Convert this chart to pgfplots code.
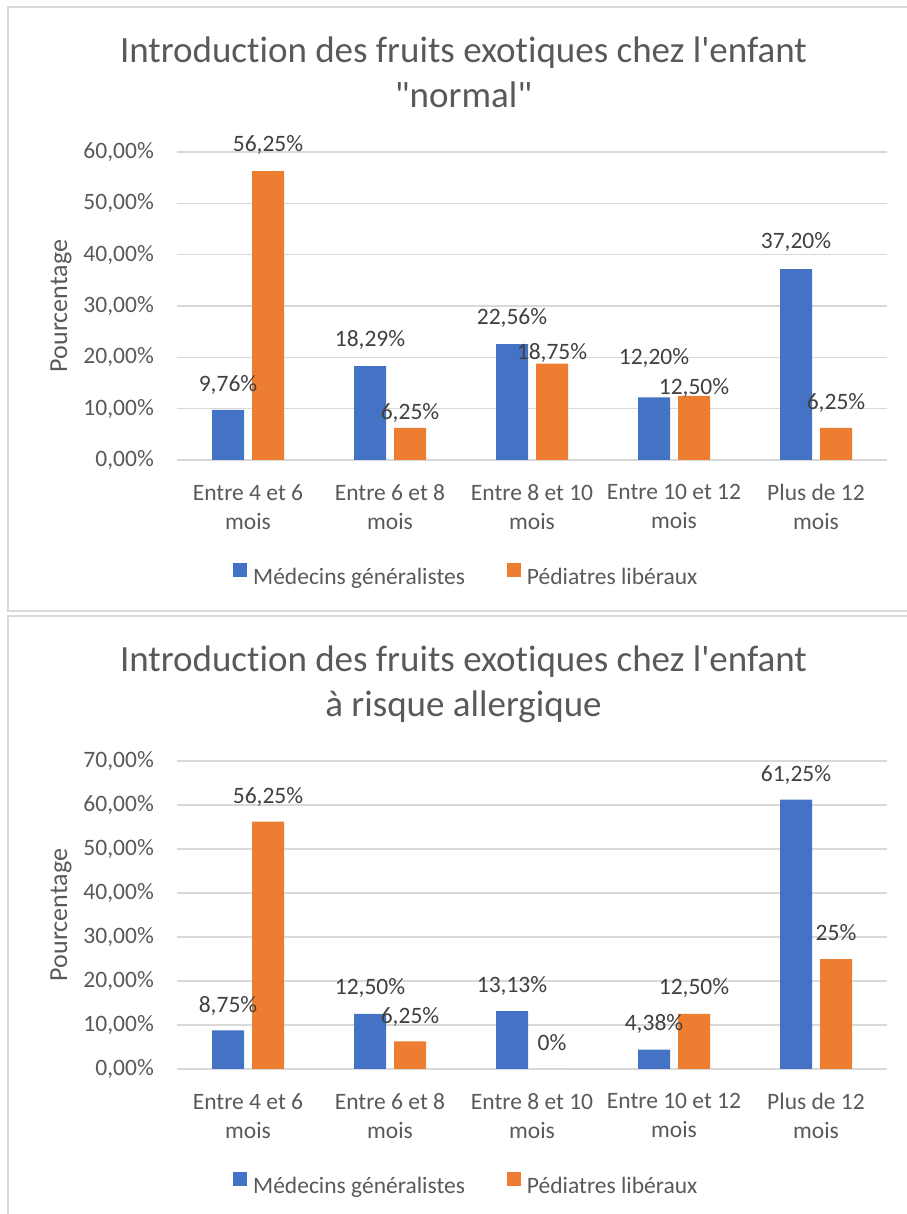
\documentclass[border=0pt]{standalone}
\usepackage{fontspec}
\usepackage{pgfplots}
\usepackage{pgfplotstable}
\pgfplotsset{compat=1.18}
\setmainfont{Carlito}
\newfontfamily\calibri{Carlito}[Ligatures=CommonOff]

\definecolor{mblue}{HTML}{4472C4}
\definecolor{morange}{HTML}{ED7D31}
\definecolor{gridgray}{HTML}{D9D9D9}
\definecolor{txtgray}{HTML}{595959}
\definecolor{labgray}{HTML}{404040}

\newcommand\lab{\calibri\fontsize{23.5}{29}\selectfont}
\newcommand\ttl{\calibri\fontsize{37}{45}\selectfont}

% x, value, label, label offset (centre above bar top)
\pgfplotstableread{
x y lab off
0 9.76 9,76 25
1 18.29 18,29 26
2 22.56 22,56 26
3 12.20 12,20 39
4 37.20 37,20 27
}\topmed
\pgfplotstableread{
x y lab off
0 56.25 56,25 26
1 6.25 6,25 15
2 18.75 18,75 11
3 12.50 12,50 8
4 6.25 6,25 25
}\topped
\pgfplotstableread{
x y lab off
0 8.75 8,75 25
1 12.50 12,50 26
2 13.13 13,13 25
3 4.38 4,38 26
4 61.25 61,25 25
}\botmed
\pgfplotstableread{
x y lab off
0 56.25 56,25 25
1 6.25 6,25 25
2 0 0 26
3 12.50 12,50 26
4 25 25 26
}\botped

\pgfplotsset{
  excelbar/.style={
    scale only axis, width=710pt, height=308pt,
    xmin=-0.5, xmax=4.5, ymin=0,
    clip=false,
    ybar=8pt, bar width=32pt,
    xtick={0,...,4},
    xticklabels={{Entre 4 et 6\\mois},{Entre 6 et 8\\mois},{Entre 8 et 10\\mois},{Entre 10 et 12\\mois},{Plus de 12\\mois}},
    axis line style={draw=none},
    major tick length=0pt,
    ymajorgrids,
    grid style={gridgray, line width=1.5pt},
    tick label style={font=\lab, text=txtgray},
    xticklabel style={align=center, anchor=north, inner sep=0pt, yshift=-24pt},
    yticklabel style={anchor=east, inner sep=0pt, xshift=-23pt},
    yticklabel={\pgfmathprintnumber[fixed,fixed zerofill,precision=2,use comma,assume math mode=true]{\tick}\%},
    ylabel={Pourcentage},
    ylabel style={at={(axis description cs:0,0.5)}, anchor=center, rotate=0, yshift=116pt, font=\calibri\fontsize{26}{30}\selectfont, text=txtgray},
    point meta=explicit symbolic,
    nodes near coords={\pgfplotspointmeta\%},
    visualization depends on={\thisrow{off} \as \off},
    every node near coord/.append style={font=\lab, text=labgray, anchor=center, yshift=\off pt},
    legend columns=2,
    legend image code/.code={\fill[##1] (0pt,0pt) rectangle (14pt,14pt);},
    legend style={at={(axis description cs:0,0)}, anchor=west, xshift=56pt, yshift=-114.5pt,
      draw=none, fill=none, font=\lab, text=txtgray, inner sep=0pt,
      nodes={inner sep=0pt},
      /tikz/every odd column/.append style={column sep=6pt},
      /tikz/every even column/.append style={column sep=42pt}},
  }
}

\begin{document}
\begin{tikzpicture}[x=1pt,y=1pt]
\useasboundingbox (0,0) rectangle (906,1214);
\draw[gridgray, line width=1.5pt] (8,1207) rectangle (919,603);
\draw[gridgray, line width=1.5pt] (8,598) rectangle (919,-20);

\node[anchor=base, font=\ttl, text=txtgray, inner sep=0pt] at (463.5,1151) {Introduction des fruits exotiques chez l'enfant};
\node[anchor=base, font=\ttl, text=txtgray, inner sep=0pt] at (463.5,1106) {"normal"};
\node[anchor=base, font=\ttl, text=txtgray, inner sep=0pt] at (463.5,542) {Introduction des fruits exotiques chez l'enfant};
\node[anchor=base, font=\ttl, text=txtgray, inner sep=0pt] at (463.5,497) {à risque allergique};

\begin{axis}[excelbar, at={(177pt,754pt)}, anchor=south west, ymax=60, ytick={0,10,...,60}]
\addplot[fill=mblue, draw=none] table[x=x, y=y, meta=lab] {\topmed};
\addplot[fill=morange, draw=none] table[x=x, y=y, meta=lab] {\topped};
\legend{Médecins généralistes, Pédiatres libéraux}
\end{axis}

\begin{axis}[excelbar, at={(177pt,145pt)}, anchor=south west, ymax=70, ytick={0,10,...,70}]
\addplot[fill=mblue, draw=none] table[x=x, y=y, meta=lab] {\botmed};
\addplot[fill=morange, draw=none] table[x=x, y=y, meta=lab] {\botped};
\legend{Médecins généralistes, Pédiatres libéraux}
\end{axis}
\end{tikzpicture}
\end{document}
